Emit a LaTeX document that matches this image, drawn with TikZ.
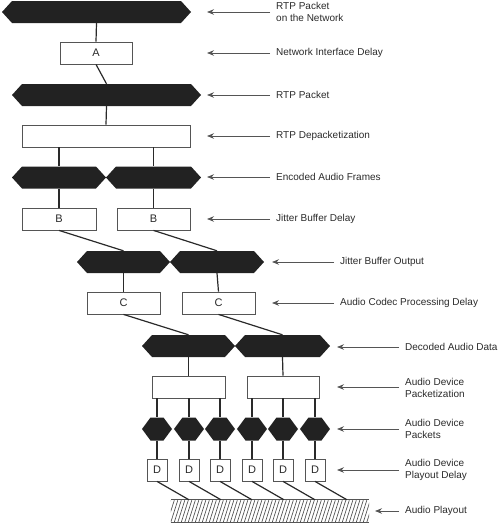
\documentclass[tikz,border=0pt]{standalone}
\usepackage{fontspec}
\setmainfont{Liberation Sans}
\usetikzlibrary{arrows.meta}
\definecolor{hexcol}{HTML}{222222}
\definecolor{linecol}{HTML}{2A2A2A}
\definecolor{boxcol}{HTML}{555555}
\definecolor{txtcol}{HTML}{2A2A2A}
\tikzset{
  x=1pt, y=-1pt,
  hexshape/.style={inner sep=0pt, minimum height=22pt, minimum width=#1,
    path picture={\fill[hexcol]
      (path picture bounding box.west)
      -- ([xshift=10pt]path picture bounding box.north west)
      -- ([xshift=-10pt]path picture bounding box.north east)
      -- (path picture bounding box.east)
      -- ([xshift=-10pt]path picture bounding box.south east)
      -- ([xshift=10pt]path picture bounding box.south west) -- cycle;}},
  smallhex/.style={inner sep=0pt, minimum height=23pt, minimum width=30pt,
    path picture={\fill[hexcol]
      (path picture bounding box.west)
      -- ([xshift=8.5pt]path picture bounding box.north west)
      -- ([xshift=-8.5pt]path picture bounding box.north east)
      -- (path picture bounding box.east)
      -- ([xshift=-8.5pt]path picture bounding box.south east)
      -- ([xshift=8.5pt]path picture bounding box.south west) -- cycle;}},
  delaybox/.style={draw=boxcol, line width=0.8pt, fill=white, inner sep=0pt,
    minimum height=22pt, minimum width=#1, text=txtcol,
    font=\fontsize{11}{13}\selectfont},
  conn/.style={draw=linecol, line width=1.2pt},
  lbl/.style={anchor=west, align=left, inner sep=0pt, text=txtcol,
    font=\fontsize{10}{12}\selectfont},
  pointer/.style={draw=boxcol, line width=0.8pt, -{Stealth[length=7pt,width=5.5pt]}},
  hatch/.style={draw=boxcol, line width=0.7pt},
}
\begin{document}
\begin{tikzpicture}
\useasboundingbox (0,0) rectangle (500,525);
% packet shapes and boxes
\node[hexshape=189pt] (h0) at (96.5,12) {};
\node[delaybox=72pt] (A) at (96,53) {A};
\node[hexshape=189pt] (h1) at (106.5,95) {};
\node[delaybox=168pt] (dep) at (106,136) {};
\node[hexshape=94pt] (e1) at (59,177.5) {};
\node[hexshape=95pt] (e2) at (153.5,177.5) {};
\node[delaybox=74pt] (B1) at (59,219) {B};
\node[delaybox=73pt] (B2) at (153.5,219) {B};
\node[hexshape=93pt] (j1) at (123.5,262) {};
\node[hexshape=94pt] (j2) at (217,262) {};
\node[delaybox=73pt] (C1) at (123.5,303) {C};
\node[delaybox=73pt] (C2) at (218.5,303) {C};
\node[hexshape=93pt] (d1) at (188.5,346) {};
\node[hexshape=95pt] (d2) at (282.5,346) {};
\node[delaybox=73pt] (P1) at (188.5,387) {};
\node[delaybox=72pt] (P2) at (283,387) {};
\foreach \i/\x in {1/157,2/189,3/220,4/252,5/283,6/315}{
  \node[smallhex] (s\i) at (\x,429) {};
  \node[delaybox=20pt] (D\i) at (\x,470) {D};
}
\node[inner sep=0pt, minimum width=198pt, minimum height=22pt] (ground) at (270,511) {};
\begin{scope}
  \clip (ground.south west) rectangle (ground.north east);
  \foreach \i in {-3,...,58}
    \draw[hatch] ([xshift=\i*3.5pt]ground.south west) -- ++(7,-22);
\end{scope}
\draw[hatch] (ground.north west) -- (ground.north east);
\draw[hatch] (ground.south west) -- (ground.south east);
% connectors
\draw[conn] (h0.south) -- (A.north);
\draw[conn] (A.south) -- (h1.north);
\draw[conn] (h1.south) -- (dep.north);
\draw[conn] (dep.south -| e1.north) -- (e1.north);
\draw[conn] (dep.south -| e2.north) -- (e2.north);
\draw[conn] (e1.south) -- (B1.north);
\draw[conn] (e2.south) -- (B2.north);
\draw[conn] (B1.south) -- (j1.north);
\draw[conn] (B2.south) -- (j2.north);
\draw[conn] (j1.south) -- (C1.north);
\draw[conn] (j2.south) -- (C2.north);
\draw[conn] (C1.south) -- (d1.north);
\draw[conn] (C2.south) -- (d2.north);
\draw[conn] (d1.south) -- (P1.north);
\draw[conn] (d2.south) -- (P2.north);
\foreach \i in {1,2,3}
  \draw[conn] (P1.south -| s\i.north) -- (s\i.north);
\foreach \i in {4,5,6}
  \draw[conn] (P2.south -| s\i.north) -- (s\i.north);
\foreach \i in {1,...,6}{
  \draw[conn] (s\i.south) -- (D\i.north);
  \draw[conn] (D\i.south) -- ([xshift=32pt]D\i.south |- ground.north);
}
% labels and pointers
\node[lbl] (l1) at (276,11.5) {RTP Packet\\on the Network};
\node[lbl] (l2) at (276,53) {Network Interface Delay};
\node[lbl] (l3) at (276,95) {RTP Packet};
\node[lbl] (l4) at (276,136) {RTP Depacketization};
\node[lbl] (l5) at (276,177) {Encoded Audio Frames};
\node[lbl] (l6) at (276,219) {Jitter Buffer Delay};
\node[lbl] (l7) at (340,262) {Jitter Buffer Output};
\node[lbl] (l8) at (340,303) {Audio Codec Processing Delay};
\node[lbl] (l9) at (405,347) {Decoded Audio Data};
\node[lbl] (l10) at (405,387.5) {Audio Device\\Packetization};
\node[lbl] (l11) at (405,429) {Audio Device\\Packets};
\node[lbl] (l12) at (405,470) {Audio Device\\Playout Delay};
\node[lbl] (l13) at (405,511) {Audio Playout};
\coordinate (t1) at (207,12);
\coordinate (t2) at (207,53);
\coordinate (t3) at (207,95);
\coordinate (t4) at (207,136);
\coordinate (t5) at (207,177);
\coordinate (t6) at (207,219);
\coordinate (t7) at (272,262);
\coordinate (t8) at (272,303);
\coordinate (t9) at (337,347);
\coordinate (t10) at (337,387);
\coordinate (t11) at (337,429);
\coordinate (t12) at (337,470);
\coordinate (t13) at (375,511);
\foreach \i in {1,...,13}
  \draw[pointer] ([xshift=-6pt]l\i.west |- t\i) -- (t\i);
\end{tikzpicture}
\end{document}
